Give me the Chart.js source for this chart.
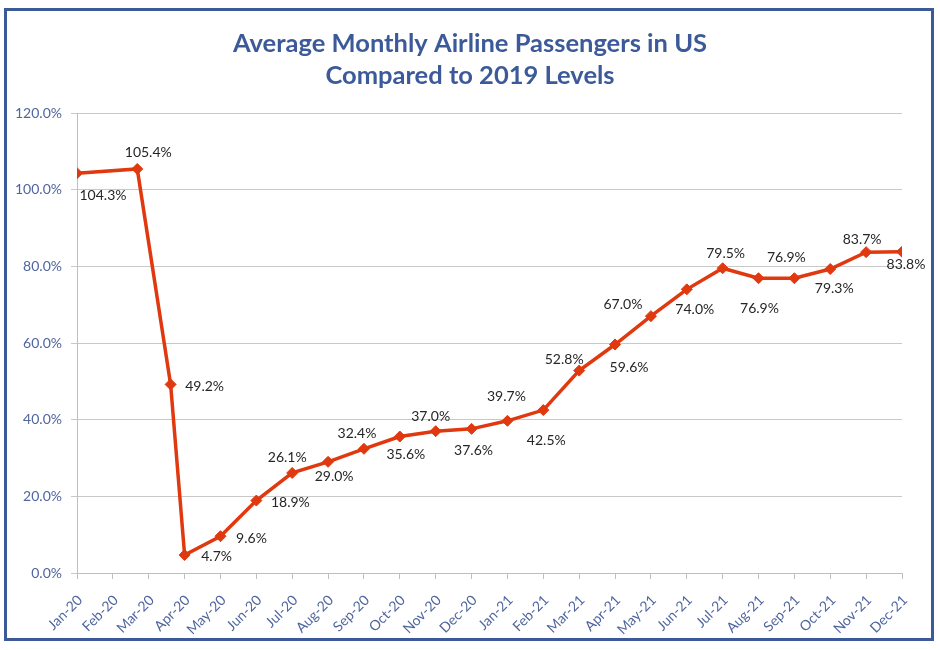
<!DOCTYPE html>
<html>
<head>
<meta charset="utf-8">
<script src="https://cdn.jsdelivr.net/npm/chart.js@4/dist/chart.umd.min.js"></script>
<style>
  html, body { margin: 0; padding: 0; background: #ffffff; }
  #wrap { position: relative; width: 940px; height: 650px; }
  #frame { position: absolute; left: 4px; top: 8px; width: 930px; height: 633px; box-sizing: border-box;
           border: 3px solid #3d5a98; pointer-events: none; }
</style>
</head>
<body>
<div id="wrap">
  <canvas id="c" width="940" height="650"></canvas>
  <div id="frame"></div>
</div>
<script>
// Tick labels (months)
const categories = ["Jan-20","Feb-20","Mar-20","Apr-20","May-20","Jun-20","Jul-20","Aug-20","Sep-20","Oct-20","Nov-20","Dec-20",
                    "Jan-21","Feb-21","Mar-21","Apr-21","May-21","Jun-21","Jul-21","Aug-21","Sep-21","Oct-21","Nov-21","Dec-21"];
const monthPos = [0, 1.68, 2.61, 3, 4, 5, 6, 7, 8, 9, 10, 11, 12, 13, 14, 15, 16, 17, 18, 19, 20, 21, 22, 23];
// Passengers as % of 2019 level
const passengersPct = [104.3, 105.4, 49.2, 4.7, 9.6, 18.9, 26.1, 29.0, 32.4, 35.6, 37.0, 37.6,
                       39.7, 42.5, 52.8, 59.6, 67.0, 74.0, 79.5, 76.9, 76.9, 79.3, 83.7, 83.8];
// Label placement offsets (px) relative to each point
const labelDx = [26, 11, 34, 32, 31, 34, -5, 6, -7, 6, -5, 2, -1, 3, -15, 14, -28, 8, 3, 1, -8, 4, -4, 4];
const labelDy = [22, -16, 2, 2, 2, 2, -15, 15, -15, 18, -15, 22, -24, 30, -11, 23, -12, 20, -15, 30, -21, 19, -13, 13];

const points = monthPos.map((m, i) => ({ x: m, y: passengersPct[i] }));

const FONT = "Lato, 'Open Sans', sans-serif";
const AXIS_COLOR = '#4f659f';

const valueLabels = {
  id: 'valueLabels',
  afterDatasetsDraw(chart) {
    const ctx = chart.ctx;
    const meta = chart.getDatasetMeta(0);
    ctx.save();
    ctx.font = '14px ' + FONT;
    ctx.fillStyle = '#262626';
    ctx.textAlign = 'center';
    ctx.textBaseline = 'middle';
    meta.data.forEach((pt, i) => {
      ctx.fillText(passengersPct[i].toFixed(1) + '%', pt.x + labelDx[i], pt.y + labelDy[i]);
    });
    ctx.restore();
  }
};

new Chart(document.getElementById('c'), {
  type: 'line',
  data: {
    datasets: [{
      data: points,
      borderColor: '#e0380f',
      backgroundColor: '#e0380f',
      borderWidth: 3.5,
      pointStyle: 'rectRot',
      pointRadius: 5.5,
      pointHoverRadius: 5.5,
      pointBackgroundColor: '#e0380f',
      pointBorderColor: '#e0380f',
      pointBorderWidth: 1,
      tension: 0,
      fill: false
    }]
  },
  options: {
    responsive: false,
    animation: false,
    events: [],
    layout: { padding: 0 },
    plugins: {
      legend: { display: false },
      tooltip: { enabled: false },
      title: {
        display: true,
        text: ['Average Monthly Airline Passengers in US', 'Compared to 2019 Levels'],
        color: '#3c5a99',
        font: { family: FONT, size: 25.5, weight: 'bold', lineHeight: 1.255 },
        padding: { top: 28, bottom: 21 }
      }
    },
    scales: {
      x: {
        type: 'linear',
        min: 0,
        max: 23,
        afterFit(s) { s.height = 77; s.paddingRight = 38; },
        afterBuildTicks(s) { s.ticks = categories.map((c, i) => ({ value: i })); },
        ticks: {
          stepSize: 1,
          autoSkip: false,
          maxRotation: 45,
          minRotation: 45,
          padding: 13,
          labelOffset: 3,
          color: AXIS_COLOR,
          font: { family: FONT, size: 14 },
          callback: (v) => categories[v]
        },
        grid: { display: true, drawOnChartArea: false, drawTicks: true, tickLength: 6, color: '#bfbfbf' },
        border: { display: true, color: '#bfbfbf', width: 1 }
      },
      y: {
        min: 0,
        max: 120,
        afterFit(s) { s.width = 77; },
        ticks: {
          stepSize: 20,
          padding: 9,
          color: AXIS_COLOR,
          font: { family: FONT, size: 14 },
          callback: (v) => v.toFixed(1) + '%'
        },
        grid: { color: '#c8c8c8', lineWidth: 1, tickLength: 6, drawTicks: true },
        border: { display: true, color: '#bfbfbf', width: 1 }
      }
    }
  },
  plugins: [valueLabels]
});
</script>
</body>
</html>
